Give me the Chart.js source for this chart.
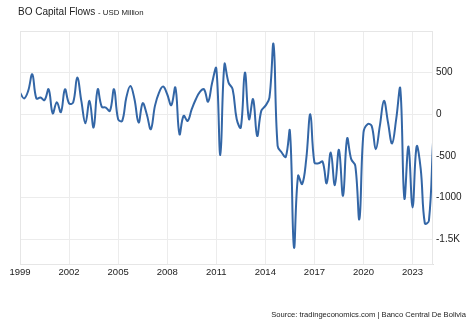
<!DOCTYPE html>
<html>
<head>
<meta charset="utf-8">
<script src="https://cdn.jsdelivr.net/npm/chart.js@4.4.1/dist/chart.umd.min.js"></script>
<style>
  html, body { margin: 0; padding: 0; background: #ffffff; }
  #wrap { position: relative; width: 474px; height: 324px; overflow: hidden; font-family: "Liberation Sans", Arial, sans-serif; }
  #c { position: absolute; left: 0; top: 0; }
  #title { position: absolute; left: 18px; top: 6px; font-size: 10px; color: #222; white-space: nowrap; }
  #title span { font-size: 7.8px; }
  #source { position: absolute; right: 8px; top: 310px; font-size: 7.6px; color: #222; white-space: nowrap; }
</style>
</head>
<body>
<div id="wrap">
  <canvas id="c" width="474" height="324"></canvas>
  <div id="title">BO Capital Flows <span>- USD Million</span></div>
  <div id="source">Source: tradingeconomics.com | Banco Central De Bolivia</div>
</div>
<script>
// Quarterly series, starting 1999 Q1
const startYear = 1999;
const capitalFlows = [
  260, 190, 280, 480, 190, 200, 170, 300, 10, 145,
  25, 300, 130, 140, 440, 160, -110, 160, -160, 300,
  90, 80, 40, 300, -60, -80, 200, 340, 180, -100,
  132, 0, -180, 100, 260, 332, 240, 108, 320, -240,
  -20, -80, 60, 180, 268, 300, 150, 380, 550, -490,
  600, 380, 300, -60, -160, 500, -60, 180, -260, 40,
  100, 200, 840, -380, -460, -512, -200, -1600, -740, -840,
  -540, 0, -580, -590, -570, -830, -460, -852, -428, -980,
  -292, -540, -620, -1260, -220, -120, -140, -420, -140, 160,
  -100, -352, -60, 308, -1012, -388, -1120, -388, -660, -1312,
  -1280, -340
];
const xTickYears = [1999, 2002, 2005, 2008, 2011, 2014, 2017, 2020, 2023];
const yTickValues = [500, 0, -500, -1000, -1500];
const yTickLabels = ["500", "0", "-500", "-1000", "-1.5K"];

const points = capitalFlows.map((v, i) => ({ x: startYear + i / 4, y: v }));

const frame = {
  id: 'frame',
  afterDraw(chart) {
    const a = chart.chartArea, ctx = chart.ctx;
    ctx.save();
    ctx.strokeStyle = '#e6e6e6';
    ctx.lineWidth = 1;
    ctx.strokeRect(a.left + 0.5, a.top + 0.5, a.right - a.left - 1, a.bottom - a.top);
    ctx.restore();
  }
};

new Chart(document.getElementById('c'), {
  type: 'line',
  data: {
    datasets: [{
      data: points,
      borderColor: '#3366a6',
      borderWidth: 2,
      pointRadius: 0,
      tension: 0.4,
      fill: false
    }]
  },
  options: {
    responsive: false,
    animation: false,
    layout: { padding: { left: 20, top: 31, right: 0, bottom: 0 } },
    plugins: { legend: { display: false }, tooltip: { enabled: false } },
    scales: {
      x: {
        type: 'linear',
        min: 1999,
        max: 2024.25,
        afterFit(s) { s.height = 60; },
        afterBuildTicks(s) { s.ticks = xTickYears.map(v => ({ value: v })); },
        grid: { color: '#ececec', drawTicks: false },
        border: { color: '#e0e0e0' },
        ticks: {
          padding: 3,
          maxRotation: 0,
          autoSkip: false,
          color: '#222',
          font: { family: 'Liberation Sans, Arial, sans-serif', size: 9.5 },
          callback: v => String(v)
        }
      },
      y: {
        position: 'right',
        min: -1800,
        max: 1000,
        afterFit(s) { s.width = 41; },
        afterBuildTicks(s) { s.ticks = yTickValues.map(v => ({ value: v })); },
        grid: { color: '#ececec', drawTicks: false },
        border: { display: false },
        ticks: {
          padding: 3,
          color: '#222',
          font: { family: 'Liberation Sans, Arial, sans-serif', size: 10 },
          callback: v => yTickLabels[yTickValues.indexOf(v)]
        }
      }
    }
  },
  plugins: [frame]
});
</script>
</body>
</html>
